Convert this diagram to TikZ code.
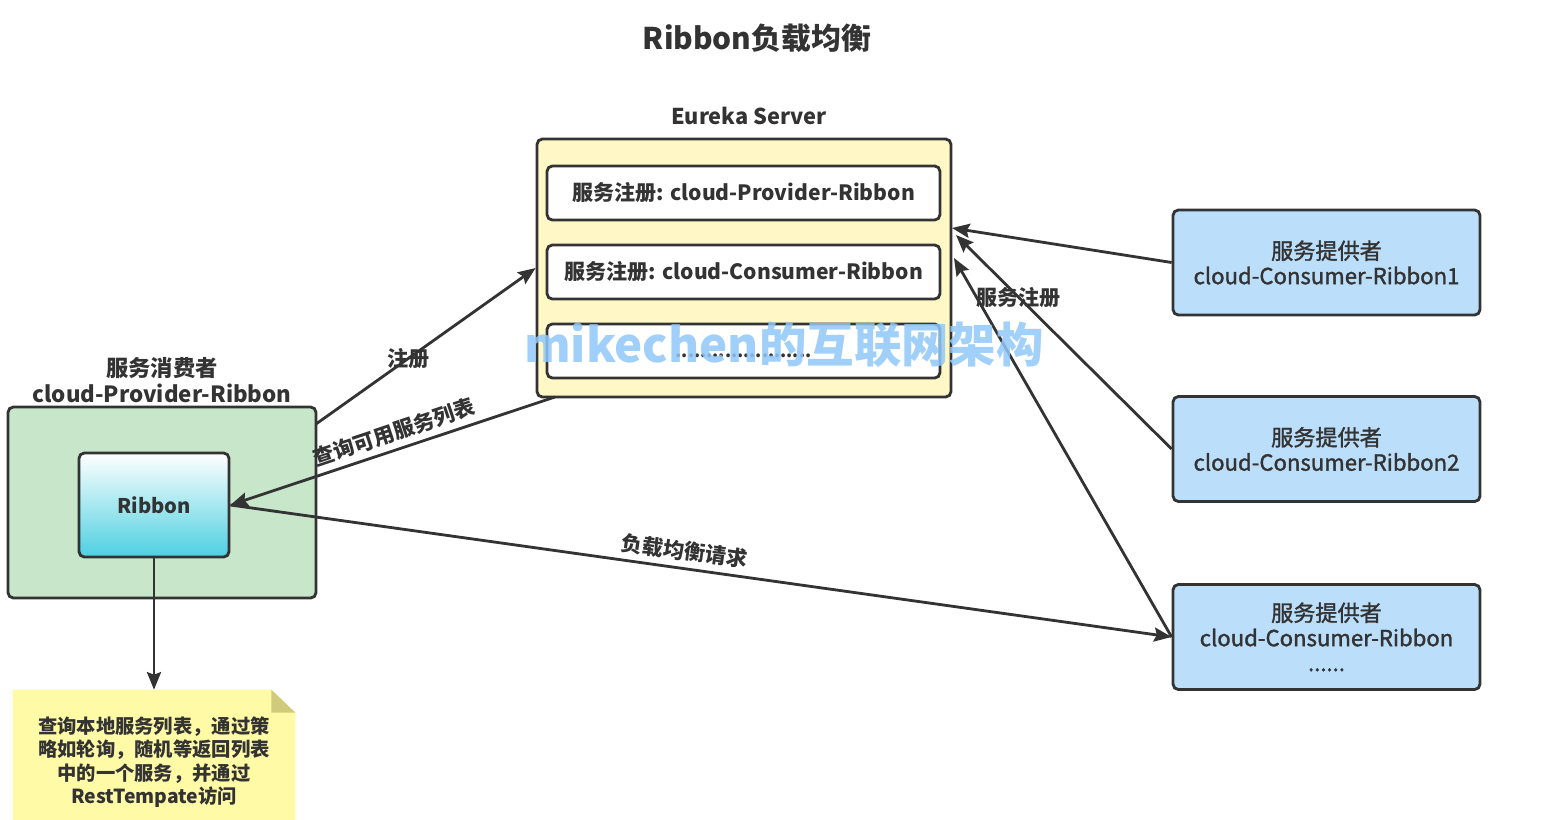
\documentclass[tikz,border=0pt]{standalone}
\usepackage{fontspec}
\setmainfont{Noto Sans CJK SC}
\newfontfamily\provfont{Noto Sans CJK SC}[FakeBold=1.5]
\usetikzlibrary{arrows.meta,backgrounds}
\definecolor{linegray}{HTML}{333333}
\definecolor{eurekafill}{HTML}{FFF8C6}
\definecolor{consumerfill}{HTML}{C8E6C9}
\definecolor{providerfill}{HTML}{BBDEFB}
\definecolor{ribbonbot}{HTML}{4DD0E1}
\definecolor{notefill}{HTML}{FFFAA6}
\definecolor{notefold}{HTML}{CFCB7A}
\definecolor{markblue}{HTML}{90C8FA}

\begin{document}
\begin{tikzpicture}[x=0.02cm,y=-0.02cm,
  box/.style={draw=linegray,line width=1.6pt,rounded corners=3pt,inner sep=0pt,align=center},
  flow/.style={-{Stealth[length=10pt,width=8pt,inset=1.5pt]},line width=1.6pt,draw=linegray},
  lbl/.style={font=\bfseries\fontsize{12}{14}\selectfont},
  every node/.append style={text=linegray}]
  \useasboundingbox (0,0) rectangle (1546,819);

  \node[font=\bfseries\fontsize{17}{20}\selectfont] (title) at (757,38) {Ribbon负载均衡};

  % registry
  \node[font=\bfseries\fontsize{12.4}{15}\selectfont] (eurekalbl) at (749,116) {Eureka Server};
  \node[box,fill=eurekafill,minimum width=8.28cm,minimum height=5.16cm] (eureka) at (744,268) {};
  \node[box,fill=white,minimum width=7.86cm,minimum height=1.08cm,lbl] (reg1) at (743.5,193) {服务注册: cloud-Provider-Ribbon};
  \node[box,fill=white,minimum width=7.86cm,minimum height=1.08cm,lbl] (reg2) at (743.5,272) {服务注册: cloud-Consumer-Ribbon};
  \node[box,fill=white,minimum width=7.86cm,minimum height=1.08cm,font=\bfseries\fontsize{10}{11}\selectfont,text height=7pt,text depth=0pt] (reg3) at (743.5,351) {......................};

  % consumer side
  \node[font=\bfseries\fontsize{12.7}{15}\selectfont,align=center] (consumerlbl) at (162,380) {服务消费者\\cloud-Provider-Ribbon};
  \node[box,fill=consumerfill,minimum width=6.16cm,minimum height=3.82cm] (consumer) at (162,502.5) {};
  \node[box,top color=white,bottom color=ribbonbot,minimum width=3cm,minimum height=2.08cm,font=\bfseries\fontsize{11.5}{14}\selectfont] (ribbon) at (154,505) {Ribbon};

  \node[minimum width=5.64cm,minimum height=2.88cm,inner sep=0pt,align=center,font=\bfseries\fontsize{11}{13.3}\selectfont] (note) at (154,762)
    {查询本地服务列表，通过策\\略如轮询，随机等返回列表\\中的一个服务，并通过\\RestTempate访问};
  \begin{scope}[on background layer]
    \fill[notefill] (note.north west) -- ([xshift=-0.48cm]note.north east) -- ([yshift=-0.46cm]note.north east) -- (note.south east) -- (note.south west) -- cycle;
    \fill[notefold] ([xshift=-0.48cm]note.north east) -- ([xshift=-0.48cm,yshift=-0.46cm]note.north east) -- ([yshift=-0.46cm]note.north east) -- cycle;
  \end{scope}

  % providers
  \node[box,fill=providerfill,minimum width=6.14cm,minimum height=2.1cm,font=\provfont\fontsize{12.6}{14.2}\selectfont] (prov1) at (1326.5,262.5) {服务提供者\\cloud-Consumer-Ribbon1};
  \node[box,fill=providerfill,minimum width=6.14cm,minimum height=2.1cm,font=\provfont\fontsize{12.6}{14.2}\selectfont] (prov2) at (1326.5,449) {服务提供者\\cloud-Consumer-Ribbon2};
  \node[box,fill=providerfill,minimum width=6.14cm,minimum height=2.1cm,font=\provfont\fontsize{12.6}{14.2}\selectfont] (prov3) at (1326.5,637) {服务提供者\\cloud-Consumer-Ribbon\\......};

  \coordinate (regin) at (316,424);
  \coordinate (queryout) at (555,397);
  \coordinate (hit1) at (952,228);
  \coordinate (hit2) at (956,235);
  \coordinate (hit3) at (954,258);

  \draw[flow] (regin) -- (eureka.west) node[lbl,pos=.42] {注册};
  \draw[flow] (queryout) -- (ribbon.east) node[lbl,pos=.48,sloped,above] {查询可用服务列表};
  \draw[flow] (ribbon.east) -- (prov3.west) node[lbl,pos=.48,sloped,above] {负载均衡请求};
  \draw[flow] (prov1.west) -- (hit1);
  \draw[flow] (prov2.west) -- (hit2) node[lbl,pos=.71] {服务注册};
  \draw[flow] (prov3.west) -- (hit3);
  \draw[flow] (ribbon.south) -- (note.north);

  \node[font=\bfseries\fontsize{27}{32}\selectfont,text=markblue,opacity=.85] (mark) at (784,345) {mikechen的互联网架构};
\end{tikzpicture}
\end{document}
